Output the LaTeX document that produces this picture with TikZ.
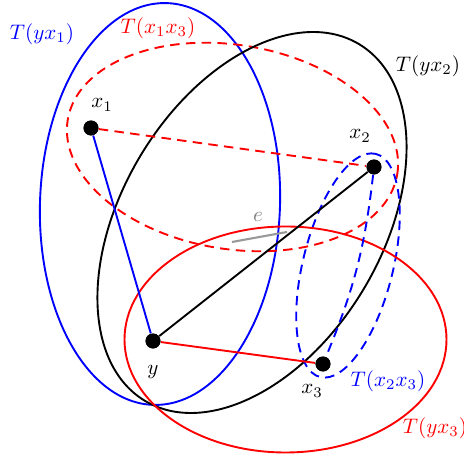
\documentclass[tikz,border=0pt]{standalone}
\usetikzlibrary{arrows.meta,positioning,calc}
\tikzset{
  tdot/.style   ={circle, fill=black, minimum size=2.5mm, inner sep=0pt},
  tedge/.style  ={line width=.9pt},
  tset/.style   ={line width=.9pt},
  tdash/.style  ={line width=.9pt, dash pattern=on 4.5pt off 3pt},
  tlab/.style   ={inner sep=1pt},
}

\begin{document}
\begin{tikzpicture}[x=0.0167cm, y=0.0167cm]
  \useasboundingbox (0,0) rectangle (464,459);

  % ---- vertices ----
  \node[tdot] (x1) at (91,331) {};
  \node[tdot] (x2) at (374,292) {};
  \node[tdot] (y)  at (153,118) {};
  \node[tdot] (x3) at (323,95)  {};

  % ---- trees (ellipses) ----
  \draw[tset, blue, shift={(160,255)}, rotate=-2]
    (0,0) ellipse [x radius=120, y radius=201];
  \draw[tdash, red, shift={(232.5,312)}, rotate=-9.4]
    (0,0) ellipse [x radius=167, y radius=102];
  \draw[tset, black, shift={(252,236.5)}, rotate=59]
    (0,0) ellipse [x radius=208, y radius=130];
  \draw[tdash, blue, shift={(348,193.5)}, rotate=76]
    (0,0) ellipse [x radius=115, y radius=45];
  \draw[tset, red, shift={(285.5,119.5)}]
    (0,0) ellipse [x radius=161, y radius=113];

  % ---- edges ----
  \draw[tedge, blue]  (x1) -- (y);
  \draw[tedge, black] (y) -- (x2);
  \draw[tedge, red]   (y) -- (x3);
  \draw[tdash, red]   (x1) -- (x2);
  \draw[tdash, blue]  (x2) to[bend left=8] (x3);

  % ---- edge e ----
  \coordinate (eA) at (232,217);
  \coordinate (eB) at (287,227);
  \draw[line width=1pt, black!40] (eA) -- (eB);
  \node[tlab, text=black!50] (elab) at (258,242) {$e$};

  % ---- dots on top ----
  \foreach \v in {x1,x2,y,x3}
    \node[tdot] at (\v) {};

  % ---- labels ----
  \node[tlab] (lx1) at (102,354) {$x_1$};
  \node[tlab] (lx2) at (360,323) {$x_2$};
  \node[tlab] (ly)  at (153,87)  {$y$};
  \node[tlab] (lx3) at (312,68)  {$x_3$};

  \node[tlab, text=blue]  (tyx1)  at (42,425)  {$T(yx_1)$};
  \node[tlab, text=red]   (tx1x3) at (158,431) {$T(x_1x_3)$};
  \node[tlab, text=black] (tyx2)  at (428,393) {$T(yx_2)$};
  \node[tlab, text=blue]  (tx2x3) at (388,78)  {$T(x_2x_3)$};
  \node[tlab, text=red]   (tyx3)  at (435,31)  {$T(yx_3)$};

\end{tikzpicture}
\end{document}
